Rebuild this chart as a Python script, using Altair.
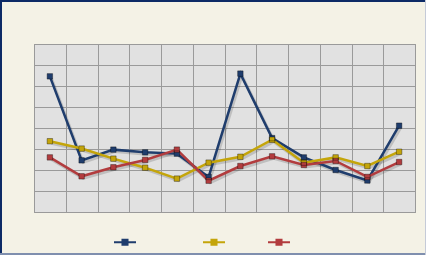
import altair as alt
import pandas as pd

months = list(range(1, 13))
series_names = ["Projected", "Real", "Other"]
blue_vals = [6.46, 2.46, 2.97, 2.84, 2.78, 1.67, 6.59, 3.52, 2.60, 2.00, 1.50, 4.11]
gold_vals = [3.37, 3.02, 2.54, 2.11, 1.59, 2.35, 2.63, 3.44, 2.35, 2.60, 2.19, 2.87]
red_vals = [2.60, 1.70, 2.13, 2.48, 2.97, 1.49, 2.19, 2.65, 2.24, 2.43, 1.67, 2.38]
colors = ["#1f3d6d", "#c4a50a", "#b23c3e"]
x_grid = [0.5 + i for i in range(13)]

rows = []
for name, vals in zip(series_names, [blue_vals, gold_vals, red_vals]):
    for m, v in zip(months, vals):
        rows.append({"month": m, "value": v, "series": name})
df = pd.DataFrame(rows)

x_enc = alt.X("month:Q", scale=alt.Scale(domain=[0.5, 12.5], nice=False, zero=False),
              axis=alt.Axis(values=x_grid, labels=False, ticks=False, domain=False,
                            grid=True, gridColor="#9a9a9a", gridOpacity=1, title=None))
y_enc = alt.Y("value:Q", scale=alt.Scale(domain=[0, 8], nice=False),
              axis=alt.Axis(values=list(range(9)), labels=False, ticks=False, domain=False,
                            grid=True, gridColor="#9a9a9a", gridOpacity=1, title=None))

color_enc = alt.Color("series:N", scale=alt.Scale(domain=series_names, range=colors), sort=series_names,
                      legend=alt.Legend(
                          orient="none", legendX=79, legendY=186, direction="horizontal",
                          title=None, labelOpacity=0, labelFont="Liberation Sans", labelFontSize=11,
                          symbolType="M-1,0L1,0M-0.23,-0.23L0.23,-0.23L0.23,0.23L-0.23,0.23Z",
                          symbolSize=484, symbolStrokeWidth=2, columnPadding=11, labelOffset=4))

base = alt.Chart(df)

shadow = base.mark_line(strokeWidth=3, color="#000000", opacity=0.15, xOffset=1.5, yOffset=2).encode(
    x=x_enc, y=y_enc, detail="series:N")

lines = base.mark_line(strokeWidth=2.5).encode(x=x_enc, y=y_enc, color=color_enc)

points = base.mark_point(shape="square", filled=True, size=30, opacity=1).encode(
    x=x_enc, y=y_enc, color=color_enc)

point_edges = base.mark_point(shape="square", filled=False, size=30, opacity=1, strokeWidth=1,
                              color="#000000", strokeOpacity=0.35).encode(x=x_enc, y=y_enc)

one = alt.Chart(pd.DataFrame({"k": [0]}))
border_left = one.mark_rule(color="#0c2a66", strokeWidth=2).encode(
    x=alt.value(-33), y=alt.value(-44), y2=alt.value(211))
border_top = one.mark_rule(color="#0c2a66", strokeWidth=2).encode(
    x=alt.value(-34), x2=alt.value(392), y=alt.value(-43))
border_bottom = one.mark_rule(color="#7f8fae", strokeWidth=2).encode(
    x=alt.value(-34), x2=alt.value(392), y=alt.value(210))
border_right = one.mark_rule(color="#c5cbd8", strokeWidth=1).encode(
    x=alt.value(391.5), y=alt.value(-44), y2=alt.value(211))

chart = alt.layer(shadow, lines, points, point_edges, border_left, border_top, border_bottom, border_right).properties(
    width=381, height=168,
    padding={"left": 34, "top": 44, "right": 11, "bottom": 43},
    autosize=alt.AutoSizeParams(type="none"),
    background="#f4f2e6",
).configure_view(
    fill="#e1e1e1", stroke="#8a8a8a", strokeWidth=1
)

chart.save("out.html", embed_options={"renderer": "svg", "actions": False})
